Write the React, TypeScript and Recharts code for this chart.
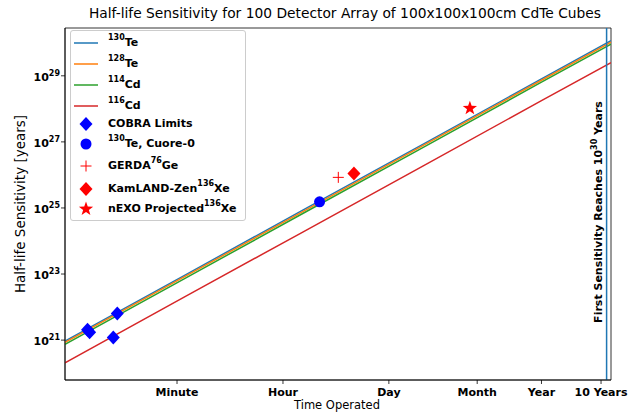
import React from "react";
import {
  ComposedChart,
  Line,
  Scatter,
  XAxis,
  YAxis,
  ReferenceLine,
  ReferenceArea,
} from "recharts";

// time operated, in years
const lineTimes = [1e-8, 1e-6, 1e-4, 1e-2, 1, 14.7];
const te130 = [9.3e20, 9.0e22, 8.7e24, 8.3e26, 8.05e28, 1.15e30];
const te128 = [8.5e20, 8.2e22, 7.9e24, 7.6e26, 7.35e28, 1.05e30];
const cd114 = [7.4e20, 7.15e22, 6.9e24, 6.6e26, 6.4e28, 9.1e29];
const cd116 = [2.04e20, 2.0e22, 1.9e24, 1.82e26, 1.77e28, 2.5e29];

const cobraTimes = [2.39e-8, 2.59e-8, 7.55e-8, 6.47e-8];
const cobraLimits = [2.06e21, 1.73e21, 6.4e21, 1.19e21];
const cuoreTime = [1.88e-4];
const cuoreLimit = [1.53e25];
const gerdaTime = [3.88e-4];
const gerdaLimit = [8.43e25];
const kamlandTime = [7.1e-4];
const kamlandLimit = [1.11e26];
const nexoTime = [0.0628];
const nexoLimit = [1.04e28];

const firstReach = 12.4;

const xTicks = [7.6e-7, 4.57e-5, 2.74e-3, 0.0833, 1, 10];
const xTickLabels = ["Minute", "Hour", "Day", "Month", "Year", "10 Years"];
const yTicks = [1e21, 1e23, 1e25, 1e27, 1e29];

const X_DOMAIN = [1e-8, 14.7];
const Y_DOMAIN = [6.2e19, 2.8e30];

const FONT = "DejaVu Sans";

const toPoints = (xs: number[], ys: number[]) =>
  xs.map((x, i) => ({ x, y: ys[i] }));

const series = [
  { name: "130Te", color: "#1f77b4", values: te130 },
  { name: "128Te", color: "#ff7f0e", values: te128 },
  { name: "114Cd", color: "#2ca02c", values: cd114 },
  { name: "116Cd", color: "#d62728", values: cd116 },
];

const diamond = (color: string) => (props: any) => {
  const { cx, cy } = props;
  return (
    <polygon
      points={`${cx},${cy - 7} ${cx + 6.5},${cy} ${cx},${cy + 7} ${cx - 6.5},${cy}`}
      fill={color}
    />
  );
};

const circle = (color: string) => (props: any) => (
  <circle cx={props.cx} cy={props.cy} r={5.5} fill={color} />
);

const plus = (color: string) => (props: any) => {
  const { cx, cy } = props;
  return (
    <g stroke={color} strokeWidth={1}>
      <line x1={cx - 5.5} y1={cy} x2={cx + 5.5} y2={cy} />
      <line x1={cx} y1={cy - 5.5} x2={cx} y2={cy + 5.5} />
    </g>
  );
};

const starPath = (cx: number, cy: number, r: number) => {
  const pts: string[] = [];
  for (let i = 0; i < 10; i++) {
    const rad = i % 2 === 0 ? r : r * 0.4;
    const a = -Math.PI / 2 + (i * Math.PI) / 5;
    pts.push(`${cx + rad * Math.cos(a)},${cy + rad * Math.sin(a)}`);
  }
  return pts.join(" ");
};

const star = (color: string) => (props: any) => (
  <polygon points={starPath(props.cx, props.cy, 7.5)} fill={color} />
);

const YTick = ({ x, y, payload }: any) => {
  const exp = Math.round(Math.log10(payload.value));
  return (
    <text
      x={x}
      y={y}
      textAnchor="end"
      fontFamily={FONT}
      fontWeight="bold"
      fontSize={11}
      fill="#000"
      dy={5}
    >
      <tspan>10</tspan>
      <tspan dy={-5} fontSize={8}>
        {exp}
      </tspan>
    </text>
  );
};

const XTick = ({ x, y, payload, index }: any) => (
  <text
    x={x}
    y={y}
    textAnchor="middle"
    fontFamily={FONT}
    fontWeight="bold"
    fontSize={11}
    fill="#000"
    dy={10}
  >
    {xTickLabels[index] ?? payload.value}
  </text>
);

const Sup = ({ children }: any) => (
  <sup style={{ fontSize: 8, verticalAlign: "top", lineHeight: "8px", position: "relative", top: -2 }}>
    {children}
  </sup>
);

const legendRows = [
  { top: 11.7, icon: "line", color: "#1f77b4", label: <><Sup>130</Sup>Te</> },
  { top: 33.3, icon: "line", color: "#ff7f0e", label: <><Sup>128</Sup>Te</> },
  { top: 54.3, icon: "line", color: "#2ca02c", label: <><Sup>114</Sup>Cd</> },
  { top: 75, icon: "line", color: "#d62728", label: <><Sup>116</Sup>Cd</> },
  { top: 93.3, icon: "diamond", color: "#0000ff", label: <>COBRA Limits</> },
  { top: 113.3, icon: "circle", color: "#0000ff", label: <><Sup>130</Sup>Te, Cuore-0</> },
  { top: 135, icon: "plus", color: "#ff0000", label: <>GERDA<Sup>76</Sup>Ge</> },
  { top: 157.7, icon: "diamond", color: "#ff0000", label: <>KamLAND-Zen<Sup>136</Sup>Xe</> },
  { top: 178.3, icon: "star", color: "#ff0000", label: <>nEXO Projected<Sup>136</Sup>Xe</> },
];

const LegendIcon = ({ icon, color }: any) => {
  const cx = 15;
  const cy = 8;
  let el: any = null;
  if (icon === "line") el = <line x1={3} y1={cy} x2={27} y2={cy} stroke={color} strokeWidth={1.5} />;
  if (icon === "diamond") el = diamond(color)({ cx, cy });
  if (icon === "circle") el = circle(color)({ cx, cy });
  if (icon === "plus") el = plus(color)({ cx, cy });
  if (icon === "star") el = star(color)({ cx, cy });
  return (
    <svg width={30} height={16} style={{ position: "absolute", left: 0, top: -8 }}>
      {el}
    </svg>
  );
};

const LegendBox = () => (
  <div
    style={{
      position: "absolute",
      left: 70,
      top: 30,
      width: 176,
      height: 191,
      border: "1px solid #cccccc",
      borderRadius: 3,
      background: "rgba(255,255,255,0.8)",
      fontFamily: FONT,
      fontWeight: "bold",
      fontSize: 11,
      boxSizing: "border-box",
    }}
  >
    {legendRows.map((r, i) => (
      <div key={i} style={{ position: "absolute", left: 0, top: r.top, width: "100%" }}>
        <LegendIcon icon={r.icon} color={r.color} />
        <div style={{ position: "absolute", left: 37, top: -7, whiteSpace: "nowrap", lineHeight: "14px" }}>
          {r.label}
        </div>
      </div>
    ))}
  </div>
);

export default function App() {
  return (
    <div style={{ position: "absolute", left: 0, top: 0, width: 635, height: 413, background: "#fff" }}>
      <ComposedChart
        width={635}
        height={413}
        margin={{ top: 28, right: 24, left: 0, bottom: 0 }}
      >
        <XAxis
          type="number"
          dataKey="x"
          scale="log"
          domain={X_DOMAIN}
          allowDataOverflow
          ticks={xTicks}
          tick={<XTick />}
          tickSize={4}
          height={33}
          interval={0}
          stroke="#000"
          strokeWidth={0.8}
        />
        <YAxis
          type="number"
          dataKey="y"
          scale="log"
          domain={Y_DOMAIN}
          allowDataOverflow
          ticks={yTicks}
          tick={<YTick />}
          tickSize={4}
          tickMargin={1}
          width={65}
          interval={0}
          stroke="#000"
          strokeWidth={0.8}
        />
        <ReferenceArea
          x1={X_DOMAIN[0]}
          x2={X_DOMAIN[1]}
          y1={Y_DOMAIN[0]}
          y2={Y_DOMAIN[1]}
          fill="none"
          stroke="#000"
          strokeWidth={0.8}
          fillOpacity={0}
        />
        {series.map((s) => (
          <Line
            key={s.name}
            data={toPoints(lineTimes, s.values)}
            dataKey="y"
            stroke={s.color}
            strokeWidth={1.5}
            dot={false}
            type="linear"
            isAnimationActive={false}
          />
        ))}
        <ReferenceLine x={firstReach} stroke="#1f77b4" strokeWidth={1.5} />
        <Scatter data={toPoints(cobraTimes, cobraLimits)} dataKey="y" shape={diamond("#0000ff")} isAnimationActive={false} />
        <Scatter data={toPoints(cuoreTime, cuoreLimit)} dataKey="y" shape={circle("#0000ff")} isAnimationActive={false} />
        <Scatter data={toPoints(gerdaTime, gerdaLimit)} dataKey="y" shape={plus("#ff0000")} isAnimationActive={false} />
        <Scatter data={toPoints(kamlandTime, kamlandLimit)} dataKey="y" shape={diamond("#ff0000")} isAnimationActive={false} />
        <Scatter data={toPoints(nexoTime, nexoLimit)} dataKey="y" shape={star("#ff0000")} isAnimationActive={false} />
      </ComposedChart>
      <svg
        width={635}
        height={413}
        style={{ position: "absolute", left: 0, top: 0, pointerEvents: "none" }}
      >
        <text x={345} y={18} textAnchor="middle" fontFamily={FONT} fontSize={13.8} fill="#000">
          Half-life Sensitivity for 100 Detector Array of 100x100x100cm CdTe Cubes
        </text>
        <text x={337} y={409} textAnchor="middle" fontFamily={FONT} fontSize={11.5} fill="#000">
          Time Operated
        </text>
        <text
          x={25}
          y={204}
          textAnchor="middle"
          fontFamily={FONT}
          fontSize={13.5}
          fill="#000"
          transform="rotate(-90 25 204)"
        >
          Half-life Sensitivity [years]
        </text>
        <text
          x={602}
          y={212}
          textAnchor="middle"
          fontFamily={FONT}
          fontWeight="bold"
          fontSize={11}
          fill="#000"
          transform="rotate(-90 602 212)"
        >
          First Sensitivity Reaches 10
          <tspan dy={-5} fontSize={8}>30</tspan>
          <tspan dy={5}> Years</tspan>
        </text>
      </svg>
      <LegendBox />
    </div>
  );
}
